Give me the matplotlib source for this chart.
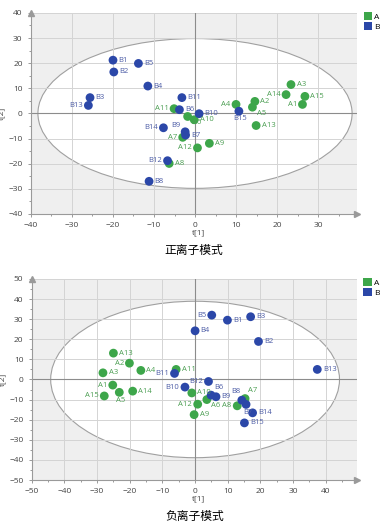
import matplotlib
matplotlib.use('Agg')
import matplotlib.pyplot as plt
from matplotlib.patches import Ellipse, Patch
from matplotlib.ticker import MultipleLocator

plt.rcParams['font.family'] = ['Open Sans', 'DejaVu Sans']

GREEN = '#3da64a'
BLUE = '#2b47a8'
GREEN_TXT = '#4b9e52'
BLUE_TXT = '#4c5ca6'

# positive ion mode scores
pos_a_names = ['A1', 'A2', 'A3', 'A4', 'A5', 'A6', 'A7', 'A8', 'A9', 'A10', 'A11', 'A12', 'A13', 'A14', 'A15']
pos_a_t1 = [26.2, 14.6, 23.4, 10.0, 14.0, -1.8, -3.0, -6.3, 3.5, -0.2, -5.1, 0.6, 14.9, 22.2, 26.8]
pos_a_t2 = [3.6, 4.8, 11.5, 3.6, 2.5, -1.2, -9.5, -19.9, -11.9, -2.5, 1.9, -13.7, -4.8, 7.5, 6.8]
pos_b_names = ['B1', 'B2', 'B3', 'B4', 'B5', 'B6', 'B7', 'B8', 'B9', 'B10', 'B11', 'B12', 'B13', 'B14', 'B15']
pos_b_t1 = [-20.0, -19.8, -25.6, -11.5, -13.8, -3.8, -2.3, -11.2, -2.4, 1.0, -3.2, -6.7, -26.0, -7.7, 10.7]
pos_b_t2 = [21.2, 16.5, 6.3, 10.9, 19.9, 1.5, -8.6, -27.0, -7.3, -0.1, 6.3, -18.8, 3.2, -5.7, 0.9]

# negative ion mode scores
neg_a_names = ['A1', 'A2', 'A3', 'A4', 'A5', 'A6', 'A7', 'A8', 'A9', 'A10', 'A11', 'A12', 'A13', 'A14', 'A15']
neg_a_t1 = [-25.2, -20.1, -28.2, -16.6, -23.2, 3.6, 15.3, 12.9, -0.3, -1.0, -5.8, 0.8, -25.0, -19.1, -27.8]
neg_a_t2 = [-2.8, 8.1, 3.3, 4.5, -6.4, -10.0, -9.5, -13.1, -17.5, -6.7, 5.0, -12.3, 13.1, -5.8, -8.2]
neg_b_names = ['B1', 'B2', 'B3', 'B4', 'B5', 'B6', 'B7', 'B8', 'B9', 'B10', 'B11', 'B12', 'B13', 'B14', 'B15']
neg_b_t1 = [9.9, 19.4, 17.0, 0.0, 5.1, 4.9, 15.6, 14.3, 6.4, -3.1, -6.3, 4.1, 37.4, 17.6, 15.1]
neg_b_t2 = [29.5, 18.9, 31.2, 24.2, 32.0, -7.8, -12.4, -10.3, -8.6, -3.8, 3.0, -1.0, 5.0, -16.6, -21.6]

# where each point label sits relative to its marker (default: right)
OFFSETS = {'r': ((4, 0), 'left', 'center'), 'l': ((-4, 0), 'right', 'center'),
           'b': ((1, -3), 'center', 'top'), 'a': ((0, 3), 'center', 'bottom'),
           'al': ((-3, 2), 'right', 'bottom'), 'ar': ((2, 3), 'left', 'bottom'),
           'alh': ((-1, 4), 'right', 'bottom'),
           'br': ((3, -2), 'left', 'top'), 'bl': ((-3, -2), 'right', 'top')}
pos_label_side = {'B13': 'l', 'A11': 'l', 'A7': 'l', 'B12': 'l', 'B14': 'l', 'B9': 'al',
                  'A6': 'br', 'A12': 'l', 'A4': 'l', 'A14': 'l', 'A1': 'l', 'A5': 'br', 'B15': 'b'}
neg_label_side = {'B5': 'l', 'B12': 'l', 'B11': 'l', 'A2': 'l', 'A1': 'l', 'A15': 'l', 'A5': 'b',
                  'B10': 'l', 'A12': 'l', 'A6': 'br', 'B6': 'ar', 'B8': 'alh', 'A7': 'ar', 'A8': 'l',
                  'B7': 'b'}


def draw_scores(ax, groups, sides, lim_x, lim_y, ell_w, ell_h, step_x, step_y, caption):
    ax.set_facecolor('#efefef')
    ax.add_patch(Ellipse((0, 0), 2 * ell_w, 2 * ell_h, facecolor='white',
                         edgecolor='#a0a0a0', lw=0.8, zorder=0.5))
    ax.set_xlim(*lim_x)
    ax.set_ylim(*lim_y)
    ax.xaxis.set_major_locator(MultipleLocator(step_x))
    ax.yaxis.set_major_locator(MultipleLocator(step_y))
    ax.xaxis.set_minor_locator(MultipleLocator(step_x / 2))
    ax.yaxis.set_minor_locator(MultipleLocator(step_y / 2))
    ax.grid(True, color='#d4d4d4', lw=0.7, zorder=0.8)
    ax.set_axisbelow(True)
    ax.axhline(0, color='#8c8c8c', lw=0.8, zorder=1)
    ax.axvline(0, color='#8c8c8c', lw=0.8, zorder=1)
    for s in ['top', 'right']:
        ax.spines[s].set_visible(False)
    for s in ['left', 'bottom']:
        ax.spines[s].set_color('#9a9a9a')
        ax.spines[s].set_linewidth(0.8)
    ax.plot(1, 0, '>', color='#9a9a9a', ms=5, transform=ax.transAxes, clip_on=False)
    ax.plot(0, 1, '^', color='#9a9a9a', ms=5, transform=ax.transAxes, clip_on=False)
    ax.tick_params(which='both', labelsize=6, colors='#9a9a9a', labelcolor='#444444',
                   length=2.5, width=0.7)
    ax.tick_params(which='minor', length=1.5)
    for names, xs, ys, col, tcol in groups:
        ax.scatter(xs, ys, s=40, color=col, edgecolors='none', zorder=3)
        for n, x, y in zip(names, xs, ys):
            off, ha, va = OFFSETS[sides.get(n, 'r')]
            ax.annotate(n, (x, y), xytext=off, textcoords='offset points',
                        ha=ha, va=va, fontsize=5.5, color=tcol, zorder=4)
    x0 = (0 - lim_x[0]) / (lim_x[1] - lim_x[0])
    ax.text(x0 - 0.01, -0.075, 't[1]', transform=ax.transAxes, ha='left', va='top',
            fontsize=6, color='#444444')
    ax.set_ylabel('t[2]', fontsize=6, color='#444444', labelpad=2)
    ax.text(0.5, -0.18, caption, transform=ax.transAxes, ha='center', va='center',
            fontsize=8.5, family=['Noto Sans CJK SC', 'DejaVu Sans'], color='black')


fig = plt.figure(figsize=(3.87, 5.25), dpi=100)
ax1 = fig.add_axes([0.080, 0.5924, 0.8425, 0.383])
ax2 = fig.add_axes([0.082, 0.0857, 0.840, 0.383])

draw_scores(ax1, [(pos_a_names, pos_a_t1, pos_a_t2, GREEN, GREEN_TXT),
                  (pos_b_names, pos_b_t1, pos_b_t2, BLUE, BLUE_TXT)],
            pos_label_side, (-40, 39.5), (-40, 40), 38.3, 29.8, 10, 10, '正离子模式')
draw_scores(ax2, [(neg_a_names, neg_a_t1, neg_a_t2, GREEN, GREEN_TXT),
                  (neg_b_names, neg_b_t1, neg_b_t2, BLUE, BLUE_TXT)],
            neg_label_side, (-50, 49.5), (-50, 50), 44.2, 38.9, 10, 10, '负离子模式')

for ax in [ax1, ax2]:
    handles = [Patch(facecolor=GREEN, label='A'), Patch(facecolor=BLUE, label='B')]
    ax.legend(handles=handles, loc='upper left', bbox_to_anchor=(1.01, 1.02), frameon=False,
              fontsize=6, handlelength=1.0, handleheight=1.0, handletextpad=0.3,
              labelspacing=0.2, borderaxespad=0)

fig.savefig('out.png', dpi=100)
